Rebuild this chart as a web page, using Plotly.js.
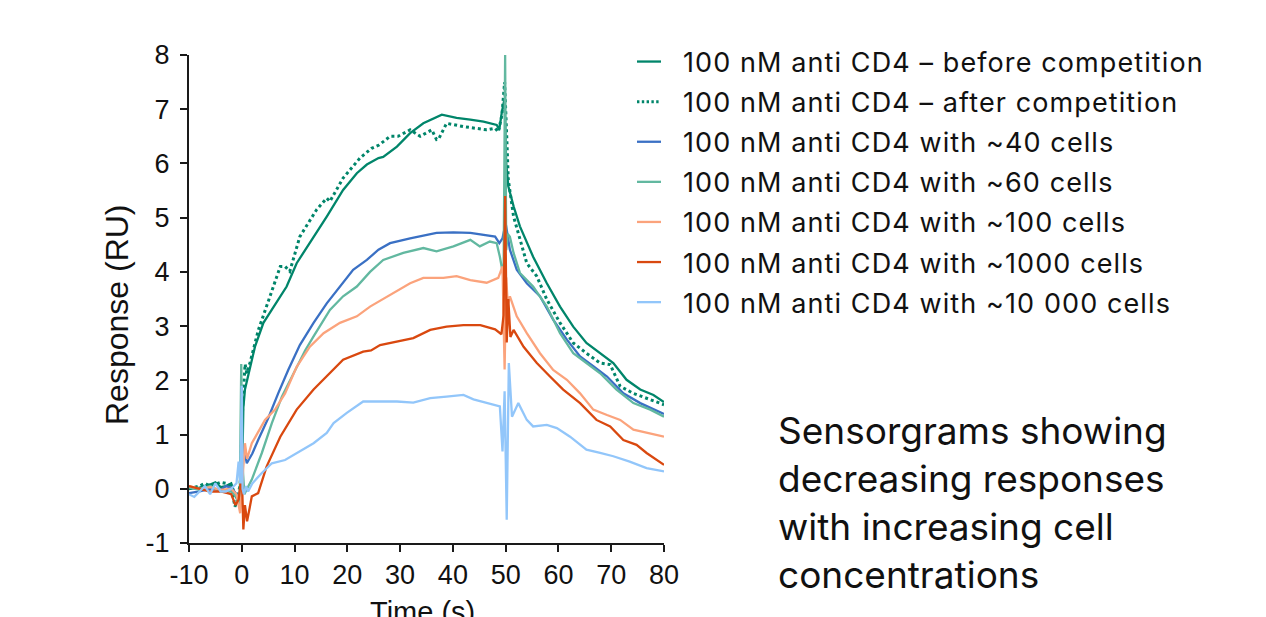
<!DOCTYPE html>
<html>
<head>
<meta charset="utf-8">
<script src="https://cdn.plot.ly/plotly-3.0.1.min.js"></script>
<style>
html,body{margin:0;padding:0;background:#fff;}
#chart{width:1266px;height:617px;}
#chart .legend .legendtext{letter-spacing:1.1px;}
#chart .legend .legendlines path{transform:matrix(0.8,0,0,1,-10,0);}
#chart .legend .scrollbox{clip-path:none !important;}
</style>
</head>
<body>
<div id="chart"></div>
<script>
// ---- Data ----
const seriesNames = [
  "100 nM anti CD4 \u2013 before competition",
  "100 nM anti CD4 \u2013 after competition",
  "100 nM anti CD4 with ~40 cells",
  "100 nM anti CD4 with ~60 cells",
  "100 nM anti CD4 with ~100 cells",
  "100 nM anti CD4 with ~1000 cells",
  "100 nM anti CD4 with ~10 000 cells"
];

const beforeX = [-10,-8,-6,-5,-4,-3,-2,-1,-0.5,0,0.3,0.6,1.2,2.5,4.1,6.0,8.5,10.4,12.9,16.1,19.2,21.8,23.7,25.9,26.8,29.4,31.9,34.4,37.9,40.7,43.3,45.8,48.3,48.8,49.3,49.8,50.1,50.5,51.5,52.7,55.2,57.8,60.3,62.8,65.3,67.9,70.4,72.9,75.5,78.0,80];
const beforeY = [0,0.02,0.08,0.12,0.03,0.05,0.1,-0.15,-0.3,-0.1,1.5,1.83,2.1,2.62,3.06,3.36,3.73,4.16,4.53,5.02,5.51,5.82,5.98,6.10,6.12,6.31,6.56,6.74,6.90,6.84,6.81,6.77,6.71,6.63,6.96,7.2,6.0,5.58,5.21,4.84,4.28,3.79,3.36,2.99,2.69,2.50,2.32,2.01,1.83,1.73,1.6];

const afterX = [-10,-8,-7,-6,-4,-3,-2,-1.3,-0.8,-0.3,0.2,0.63,0.95,1.5,3.15,4.7,7.3,8.2,9.1,11.0,14.2,16.1,16.7,19.2,22.4,24.6,26.0,28.1,29.6,31.9,33.8,36.0,36.9,37.3,38.8,42.0,44.5,46.4,48.0,48.6,49.3,49.8,50.2,50.5,51.5,52.7,54.0,55.9,57.8,60.3,62.8,65.3,67.9,69.8,71.7,74.2,76.7,80];
const afterY = [0,0.05,0.1,0.05,0.12,0.1,0.05,-0.33,-0.2,0.1,1.6,2.3,2.13,2.3,2.93,3.36,4.10,4.1,4.01,4.65,5.15,5.36,5.30,5.73,6.10,6.28,6.34,6.50,6.50,6.62,6.50,6.62,6.44,6.45,6.74,6.68,6.65,6.62,6.65,6.58,6.9,7.5,6.5,5.70,5.02,4.59,4.16,3.92,3.49,3.06,2.69,2.50,2.32,2.29,1.89,1.76,1.67,1.55];

const c40X = [-10,-8,-6,-4,-3,-2,-1,-0.5,0,0.3,0.95,2.0,3.1,5.0,6.9,8.8,11.0,13.6,16.1,18.6,21.1,23.7,25.9,28.1,31.9,36.9,40.1,43.3,45.8,48.0,48.8,49.4,50.0,50.8,52.1,54.0,56.5,59.0,61.6,64.1,66.6,69.2,72.3,75.5,80];
const c40Y = [-0.08,-0.05,0,-0.02,0.05,0.02,-0.1,-0.2,0.3,0.8,0.47,0.65,0.90,1.30,1.76,2.19,2.65,3.06,3.42,3.73,4.04,4.22,4.41,4.53,4.62,4.72,4.73,4.72,4.68,4.65,4.53,4.62,4.9,4.41,4.04,3.79,3.55,3.12,2.75,2.44,2.26,2.07,1.76,1.58,1.38];

const c60X = [-10,-8,-6,-4,-2,-1,-0.4,-0.1,0.1,0.5,1.0,1.9,3.8,5.7,7.6,10.1,12.0,13.6,16.7,19.2,21.8,24.3,26.8,30.6,34.4,36.9,40.1,43.3,45.1,47.0,48.3,48.9,49.6,49.9,50.1,50.4,50.8,51.5,52.7,55.2,57.8,60.3,62.8,65.3,67.9,71.0,74.2,77.4,80];
const c60Y = [0.02,-0.02,0.05,-0.05,-0.05,-0.15,-0.3,2.3,0.5,-0.1,0.0,0.17,0.66,1.21,1.70,2.2,2.55,2.81,3.30,3.55,3.73,4.00,4.22,4.35,4.44,4.38,4.47,4.59,4.47,4.56,4.53,4.28,3.9,8.0,4.4,4.7,4.65,4.35,3.98,3.73,3.36,2.87,2.50,2.32,2.13,1.83,1.58,1.46,1.33];

const c100X = [-10,-8,-6,-4,-2,-1,-0.3,0.2,0.6,1.0,1.9,4.4,6.3,8.2,10.4,12.9,15.5,18.6,21.8,24.3,25.9,28.1,31.9,34.4,38.2,40.7,43.3,46.4,48.6,49.4,49.8,50.1,50.4,50.8,52.1,54.0,56.5,59.0,61.6,64.1,66.6,69.2,71.7,74.2,76.7,80];
const c100Y = [0.05,0,0.03,-0.02,0,-0.1,-0.45,0.3,0.84,0.55,0.84,1.27,1.46,1.76,2.25,2.62,2.87,3.06,3.18,3.36,3.45,3.58,3.79,3.89,3.89,3.92,3.85,3.80,3.89,4.1,2.2,3.9,3.4,3.55,3.18,2.87,2.50,2.19,2.01,1.76,1.46,1.36,1.27,1.09,1.03,0.96];

const c1000X = [-10,-8,-6,-4,-2,-1.2,-0.6,0,0.3,0.6,1.0,1.5,1.9,3.1,4.7,7.3,10.4,13.6,16.7,19.2,23.0,24.5,26.2,29.4,32.5,35.7,38.8,42.0,45.2,48.0,49.2,49.6,49.9,50.2,50.5,50.9,51.5,53.4,55.9,58.4,60.9,64.1,67.2,69.8,72.3,74.8,76.7,80];
const c1000Y = [0.05,0.0,-0.05,-0.05,-0.1,-0.3,-0.2,0.3,-0.75,-0.3,-0.6,-0.35,-0.14,-0.08,0.41,0.96,1.46,1.83,2.13,2.38,2.53,2.55,2.65,2.72,2.78,2.93,2.99,3.02,3.02,2.94,2.85,3.2,5.4,2.7,3.5,2.8,2.93,2.62,2.32,2.07,1.83,1.58,1.27,1.15,0.90,0.81,0.66,0.44];

const c10000X = [-10,-9,-8,-7,-6,-5,-4,-3,-2,-1,-0.6,-0.3,0.0,0.15,0.4,0.8,1.2,2.0,3.8,5.7,8.2,10.4,13.6,16.1,17.4,19.9,23.0,26.2,29.4,32.5,35.7,38.8,42.0,43.9,46.4,48.9,49.4,49.8,50.2,50.6,51.2,52.4,54.0,55.2,57.8,59.7,62.2,65.3,67.9,70.4,73.5,76.7,80];
const c10000Y = [-0.1,-0.15,-0.05,0.05,-0.1,0.1,-0.05,-0.05,0.0,0.1,0.5,0.1,1.9,0.0,-0.1,0.05,-0.05,0.1,0.29,0.47,0.53,0.66,0.84,1.03,1.21,1.40,1.61,1.61,1.61,1.59,1.67,1.70,1.73,1.65,1.58,1.52,0.69,1.8,-0.57,2.32,1.33,1.58,1.27,1.15,1.18,1.12,0.96,0.72,0.66,0.60,0.50,0.38,0.32];

const xTicks = [-10,0,10,20,30,40,50,60,70,80];
const yTicks = [-1,0,1,2,3,4,5,6,7,8];
const xTitle = "Time (s)";
const yTitle = "Response (RU)";
const noteText = "Sensorgrams showing<br>decreasing responses<br>with increasing cell<br>concentrations";

// ---- Styling ----
const colors = ["#00856a","#00856a","#3a70c4","#62b8a0","#fba37c","#d9480f","#92c6fa"];
const dashes = ["solid","dot","solid","solid","solid","solid","solid"];
const xs = [beforeX, afterX, c40X, c60X, c100X, c1000X, c10000X];
const ys = [beforeY, afterY, c40Y, c60Y, c100Y, c1000Y, c10000Y];

const traces = xs.map((xv, i) => ({
  type: "scatter",
  mode: "lines",
  x: xv,
  y: ys[i],
  name: seriesNames[i],
  legendgroup: "g" + i,
  line: {color: colors[i], width: i === 1 ? 3 : 2.3, dash: dashes[i]},
  hoverinfo: "skip"
}));

const fontAx = "Liberation Sans, Arial, sans-serif";
const fontTx = "Inter, Noto Sans, sans-serif";
const W = 475, H = 488, L = 189, T = 55;
const px2x = p => (p - L) / W;
const px2y = p => (T + H - p) / H;

const axisCommon = {
  showline: true, linecolor: "#1a1a1a", linewidth: 2,
  ticks: "outside", ticklen: 7, tickwidth: 2, tickcolor: "#1a1a1a",
  showgrid: false, zeroline: false, automargin: false,
  tickfont: {family: fontAx, size: 27, color: "#111"}
};

const layout = {
  width: 1266, height: 617,
  margin: {l: 189, r: 602, t: 55, b: 74, autoexpand: false},
  paper_bgcolor: "#ffffff", plot_bgcolor: "#ffffff",
  showlegend: true,
  xaxis: Object.assign({}, axisCommon, {
    range: [-10, 80], tickvals: xTicks, ticktext: xTicks.map(String)
  }),
  yaxis: Object.assign({}, axisCommon, {
    range: [-1, 8], tickvals: yTicks, ticktext: yTicks.map(String),
    ticklabelstandoff: 5
  }),
  legend: {
    x: px2x(643), y: px2y(37.5), xanchor: "left", yanchor: "top",
    font: {family: fontTx, size: 27, color: "#111"},
    bgcolor: "rgba(0,0,0,0)", borderwidth: 0,
    itemwidth: 30, tracegroupgap: 2, traceorder: "grouped"
  },
  annotations: [
    {
      xref: "paper", yref: "paper", x: px2x(776), y: px2y(502),
      xanchor: "left", yanchor: "middle", align: "left", showarrow: false,
      text: noteText, font: {family: fontTx, size: 37, color: "#111"}
    },
    {
      xref: "paper", yref: "paper", x: px2x(422), y: px2y(612),
      xanchor: "center", yanchor: "middle", showarrow: false,
      text: xTitle, font: {family: fontAx, size: 29, color: "#111"}
    },
    {
      xref: "paper", yref: "paper", x: px2x(117), y: px2y(315),
      xanchor: "center", yanchor: "middle", showarrow: false, textangle: -90,
      text: yTitle, font: {family: fontAx, size: 32, color: "#111"}
    }
  ]
};

Plotly.newPlot("chart", traces, layout, {displayModeBar: false, staticPlot: true});
</script>
</body>
</html>
